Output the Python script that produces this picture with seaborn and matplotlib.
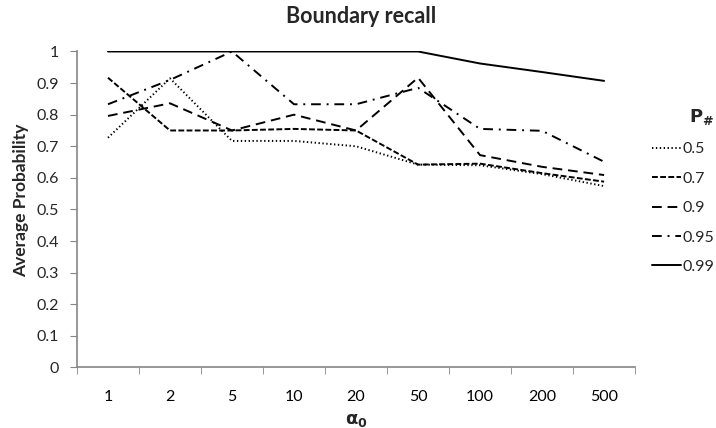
import pandas as pd
import numpy as np
import matplotlib.pyplot as plt
import seaborn as sns

alpha0 = ["1", "2", "5", "10", "20", "50", "100", "200", "500"]
p_levels = ["0.5", "0.7", "0.9", "0.95", "0.99"]

p05 = [0.727, 0.915, 0.717, 0.717, 0.700, 0.642, 0.640, 0.612, 0.574]
p07 = [0.917, 0.750, 0.750, 0.755, 0.750, 0.642, 0.645, 0.615, 0.588]
p09 = [0.796, 0.836, 0.750, 0.800, 0.750, 0.917, 0.672, 0.635, 0.609]
p095 = [0.833, 0.910, 1.000, 0.833, 0.833, 0.885, 0.755, 0.749, 0.651]
p099 = [1.000, 1.000, 1.000, 1.000, 1.000, 1.000, 0.962, 0.935, 0.907]

rows = []
for lvl, vals in zip(p_levels, [p05, p07, p09, p095, p099]):
    for a, v in zip(alpha0, vals):
        rows.append({"alpha0": a, "P": lvl, "prob": v})
df = pd.DataFrame(rows)

sns.set_style("white")
plt.rcParams['font.family'] = ['Lato', 'DejaVu Sans']

fig = plt.figure(figsize=(7.16, 4.28), dpi=100)
ax = fig.add_axes([0.1075, 0.1414, 0.7795, 0.7383])

dashes = {"0.5": (0.7, 1.3), "0.7": (3, 1.2), "0.9": (5, 3), "0.95": (5, 3, 1, 3), "0.99": ""}
sns.lineplot(data=df, x="alpha0", y="prob", style="P", dashes=dashes,
             color="black", linewidth=1.4, ax=ax, sort=False)

ax.set_xlim(-0.5, 8.5)
ax.set_ylim(0, 1)
ax.set_yticks(np.arange(0, 1.01, 0.1))
ax.set_yticklabels(["0", "0.1", "0.2", "0.3", "0.4", "0.5", "0.6", "0.7", "0.8", "0.9", "1"])
ax.set_xticks(range(9))
ax.set_xticklabels(alpha0)
ax.set_xticks(np.arange(-0.5, 9, 1), minor=True)
ax.tick_params(axis="x", which="major", length=0, pad=16, labelsize=11.5, colors="black")
ax.tick_params(axis="x", which="minor", length=5, color="#868686", direction="out", bottom=True)
ax.tick_params(axis="y", length=5, color="#868686", direction="out", left=True, labelsize=11.5, pad=8)

for s in ["top", "right"]:
    ax.spines[s].set_visible(False)
for s in ["left", "bottom"]:
    ax.spines[s].set_color("#868686")
    ax.spines[s].set_linewidth(1.2)

ax.set_xlabel(r"$\mathbf{\alpha_0}$", fontsize=13, labelpad=6)
ax.set_ylabel("Average Probability", fontsize=12.5, fontweight="bold")
ax.yaxis.set_label_coords(-0.085, 0.53)
fig.text(0.505, 0.962, "Boundary recall", ha="center", va="center", fontsize=15.5, fontweight="bold")

leg = ax.legend(title=r"$\mathbf{P_{\#}}$", loc="center left", bbox_to_anchor=(1.005, 0.56),
                frameon=False, fontsize=11.5, title_fontsize=13, handlelength=1.8,
                handletextpad=0.1, labelspacing=0.95)
leg._legend_box.align = "right"

fig.savefig("out.png", dpi=100)
